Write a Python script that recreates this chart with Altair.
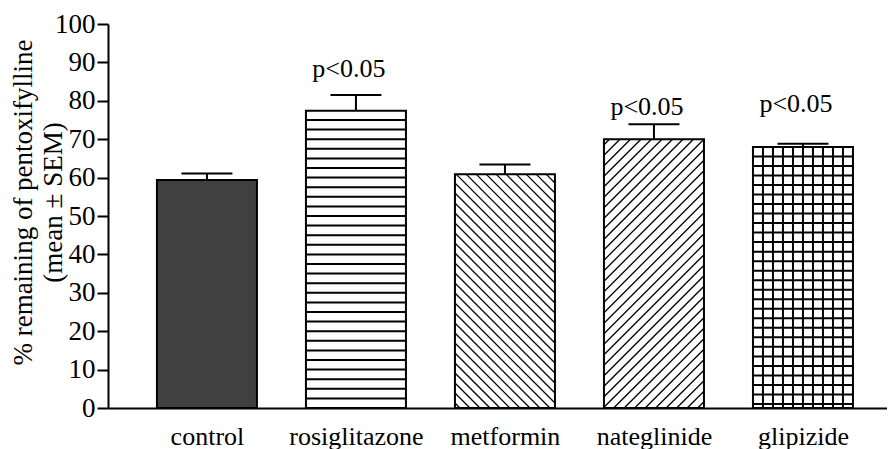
import altair as alt
import pandas as pd

# ---------------- data ----------------
categories = ["control", "rosiglitazone", "metformin", "nateglinide", "glipizide"]
means = [59.4, 77.4, 60.9, 70.0, 68.0]
sems = [1.7, 4.1, 2.5, 3.9, 0.8]
patterns = ["solid", "horizontal", "backslash", "slash", "grid"]
sig_groups = ["rosiglitazone", "nateglinide", "glipizide"]
sig_text = ["p<0.05", "p<0.05", "p<0.05"]
sig_y = [86.2, 76.3, 77.2]
y_ticks = list(range(0, 101, 10))

# ---------------- layout / style constants ----------------
W, H = 779, 384
X_DOMAIN = [-0.664, 4.564]
KX = W / (X_DOMAIN[1] - X_DOMAIN[0])   # px per x unit
KY = H / 100.0                          # px per y unit
HALF = 50 / KX                          # half bar width (units)
CAP = 25.5 / KX                         # half cap width (units)
FONT = "Liberation Serif"

idx = list(range(len(categories)))
bars = pd.DataFrame({
    "cat": categories, "idx": idx, "mean": means, "sem": sems, "pattern": patterns,
})
bars["x0"] = bars["idx"] - HALF
bars["x1"] = bars["idx"] + HALF
bars["top"] = bars["mean"] + bars["sem"]
bars["c0"] = bars["idx"] - CAP
bars["c1"] = bars["idx"] + CAP
bars["fill"] = ["#404040" if p == "solid" else "#ffffff" for p in patterns]

# ---------------- hatching segments derived from bar heights ----------------
segs = []
for i, m, p in zip(idx, means, patterns):
    left = i - HALF
    w = 2 * HALF * KX
    h = m * KY
    if p == "horizontal":
        k = 1
        while 2.5 * k < m - 0.3:
            segs.append((left, left + 2 * HALF, 2.5 * k, 2.5 * k, 2.0))
            k += 1
    elif p == "grid":
        k = 1
        while m - 2.48 * k > 0.3:
            yy = m - 2.48 * k
            segs.append((left, left + 2 * HALF, yy, yy, 2.0))
            k += 1
        for j in range(1, 10):
            xx = left + 10 * j / KX
            segs.append((xx, xx, 0, m, 2.0))
    elif p == "slash":
        step = 10.5
        b = -w + step * 0.6
        while b < h:
            xs = max(0.0, -b)
            xe = min(w, h - b)
            if xe > xs:
                segs.append((left + xs / KX, left + xe / KX,
                             (xs + b) / KY, (xe + b) / KY, 1.3))
            b += step
    elif p == "backslash":
        step = 10.0
        b = step * 0.5
        while b < w + h:
            xs = max(0.0, b - h)
            xe = min(w, b)
            if xe > xs:
                segs.append((left + xs / KX, left + xe / KX,
                             (b - xs) / KY, (b - xe) / KY, 1.3))
            b += step
hatch = pd.DataFrame(segs, columns=["hx", "hx2", "hy", "hy2", "sw"])

sig = pd.DataFrame({
    "cat": sig_groups,
    "idx": [categories.index(c) for c in sig_groups],
    "label": sig_text,
    "ly": sig_y,
})

xscale = alt.Scale(domain=X_DOMAIN, nice=False, zero=False)
yscale = alt.Scale(domain=[0, 100], nice=False)

label_expr = "[" + ",".join("'%s'" % c for c in categories) + "][datum.value]"

x_axis = alt.Axis(
    values=idx, labelExpr=label_expr, title=None, grid=False, ticks=False,
    tickSize=0, labelPadding=36, labelBaseline="alphabetic", labelFont=FONT,
    labelFontSize=26, labelColor="black", domainColor="black", domainWidth=2,
    labelAngle=0, labelOverlap=False,
)
y_axis = alt.Axis(
    values=y_ticks, title=["% remaining of pentoxifylline", "(mean ± SEM)"],
    grid=False, tickSize=11, tickWidth=2, tickColor="black", domainColor="black",
    domainWidth=2, labelFont=FONT, labelFontSize=27, labelColor="black",
    labelPadding=2, titleFont=FONT, titleFontSize=27, titleFontWeight="normal",
    titleColor="black", titleLineHeight=30, titleBaseline="alphabetic",
    titleAlign="center", titleX=-77, titleY=178, titleAngle=270,
)


def X(field):
    return alt.X(field, scale=xscale, axis=x_axis)


def Y(field):
    return alt.Y(field, scale=yscale, axis=y_axis)


base = alt.Chart(bars)

fill_layer = base.mark_rect(strokeWidth=0).encode(
    x=X("x0:Q"), x2="x1:Q",
    y=Y("mean:Q"), y2=alt.datum(0),
    fill=alt.Fill("fill:N", scale=None),
)

hatch_layer = alt.Chart(hatch).mark_rule(color="black").encode(
    x=X("hx:Q"), x2="hx2:Q",
    y=Y("hy:Q"), y2="hy2:Q",
    strokeWidth=alt.StrokeWidth("sw:Q", scale=None),
)

err_line = base.mark_rule(color="black", strokeWidth=2).encode(
    x=X("idx:Q"),
    y=Y("mean:Q"), y2="top:Q",
)
err_cap = base.mark_rule(color="black", strokeWidth=2).encode(
    x=X("c0:Q"), x2="c1:Q",
    y=Y("top:Q"),
)

outline = base.mark_rect(fill=None, stroke="black", strokeWidth=2).encode(
    x=X("x0:Q"), x2="x1:Q",
    y=Y("mean:Q"), y2=alt.datum(0),
)

sig_layer = alt.Chart(sig).mark_text(
    font=FONT, fontSize=26, baseline="alphabetic", align="center", dx=-7, color="black"
).encode(
    x=X("idx:Q"),
    y=Y("ly:Q"),
    text="label:N",
)

chart = alt.layer(
    fill_layer, hatch_layer, err_line, err_cap, outline, sig_layer
).properties(
    width=W, height=H,
    autosize=alt.AutoSizeParams(type="none"),
    padding={"left": 100, "top": 16, "right": 0, "bottom": 41},
    background="white",
).configure_view(stroke=None)

chart.save("out.html", embed_options={"renderer": "svg", "actions": False})
